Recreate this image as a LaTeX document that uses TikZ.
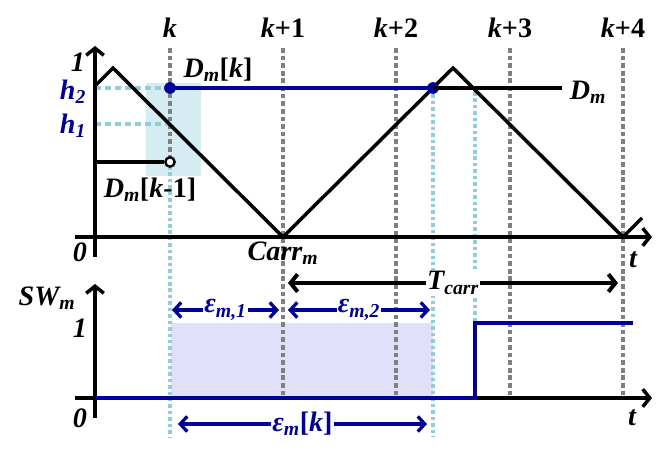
\documentclass[tikz,border=0pt]{standalone}
\usepackage{fontspec}
\setmainfont{Liberation Serif}
\usetikzlibrary{arrows.meta}
\definecolor{navyblue}{RGB}{0,0,150}
\definecolor{skyline}{RGB}{146,205,220}
\definecolor{gridgray}{RGB}{128,128,128}
\definecolor{boxblue}{RGB}{214,236,243}
\definecolor{lavender}{RGB}{224,224,250}
\newcommand{\lsub}[1]{\textsubscript{#1}}

\begin{document}
\begin{tikzpicture}[x=0.03cm,y=-0.03cm,
  lbl/.style={font=\fontsize{24}{26}\selectfont\bfseries\itshape,inner sep=1pt},
  axis/.style={line width=3pt,-{Straight Barb[length=6pt,width=15pt]}},
  gridline/.style={gridgray,line width=3pt,dash pattern=on 4pt off 2.5pt},
  sampline/.style={skyline,line width=2.8pt,dash pattern=on 3pt off 2.5pt},
  levelline/.style={skyline,line width=2.6pt,dash pattern=on 5pt off 3.5pt},
  span/.style={navyblue,line width=2.8pt,{Straight Barb[length=6pt,width=13pt]}-{Straight Barb[length=6pt,width=13pt]}},
  tspan/.style={line width=3.4pt,{Straight Barb[length=6pt,width=15pt]}-{Straight Barb[length=6pt,width=15pt]}},
  dot/.style={circle,fill=navyblue,inner sep=0pt,minimum size=10pt},
  opendot/.style={circle,draw,fill=white,line width=2pt,inner sep=0pt,minimum size=8pt},
]
\useasboundingbox (0,0) rectangle (664,456);
% shaded regions
\fill[boxblue] (146,83) rectangle (201,176);
\fill[lavender] (171,323) rectangle (433,398);
% sample instants
\draw[gridline] (170,48) -- (170,160);
\node[lbl] (k0) at (170,28) {k};
\foreach \x/\n in {283/1,396/2,510/3,623/4} {
  \draw[gridline] (\x,48) -- (\x,398);
  \node[lbl] (k\n) at (\x,28) {k\textup{+\n}};
}
% update and crossing instants
\draw[sampline] (170,166) -- (170,437);
\draw[sampline] (433,88) -- (433,437);
\draw[sampline] (475,92) -- (475,322);
% duty levels
\draw[levelline] (95,88) -- (170,88);
\draw[levelline] (95,124) -- (170,124);
% axes
\draw[axis] (95,257) -- (95,46);
\draw[axis] (75,237) -- (652,237);
\draw[axis] (95,418) -- (95,284);
\draw[axis] (75,398) -- (652,398);
% carrier
\draw[line width=3pt,line join=miter] (95,86) -- (113,68) -- (283,237) -- (453,68) -- (623,237) -- (642,218);
% duty cycle
\node[dot] (dk) at (170,88) {};
\node[dot] (dx) at (433,88) {};
\coordinate (dend) at (562,88);
\coordinate (dstart) at (95,162);
\draw[line width=3pt] (dx.center) -- (dend);
\draw[navyblue,line width=3.2pt] (dk.center) -- (dx.center);
\node[opendot] (dprev) at (170,162) {};
\draw[line width=3pt] (dstart) -- (dprev);
% switching signal
\draw[navyblue,line width=3.4pt] (95,398) -- (475,398) -- (475,323) -- (633,323);
% labels
\node[lbl] (one) at (78,62) {1};
\node[lbl,text=navyblue] (h2) at (73,92) {h\lsub{2}};
\node[lbl,text=navyblue] (h1) at (73,126) {h\lsub{1}};
\node[lbl] (dmk) at (218,70) {D\lsub{m}\textup{[}k\textup{]}};
\node[lbl] (dmk1) at (150,190) {D\lsub{m}\textup{[}k\textup{-1]}};
\node[lbl] (dm) at (588,92) {D\lsub{m}};
\node[lbl] (carr) at (283,253) {Carr\lsub{m}};
\node[lbl] (zero) at (80,252) {0};
\node[lbl] (t1) at (633,260) {t};
\node[lbl] (sw) at (47,298) {SW\lsub{m}};
\node[lbl] (swone) at (80,328) {1};
\node[lbl] (swzero) at (80,418) {0};
\node[lbl] (t2) at (632,418) {t};
% periods
\coordinate (tl) at (288,283);
\coordinate (tr) at (618,283);
\draw[tspan] (tl) -- node[lbl,fill=white] (tc) {T\lsub{carr}} (tr);
\coordinate (e1l) at (172,310);
\coordinate (e1r) at (279,310);
\coordinate (e2l) at (288,310);
\coordinate (e2r) at (430,310);
\coordinate (ekl) at (178,424);
\coordinate (ekr) at (427,424);
\draw[span] (e1l) -- node[lbl,fill=white,text=navyblue] (e1) {ε\lsub{m,1}} (e1r);
\draw[span] (e2l) -- node[lbl,fill=white,text=navyblue] (e2) {ε\lsub{m,2}} (e2r);
\draw[span] (ekl) -- node[lbl,fill=white,text=navyblue] (ek) {ε\lsub{m}\textup{[}k\textup{]}} (ekr);
\end{tikzpicture}
\end{document}
